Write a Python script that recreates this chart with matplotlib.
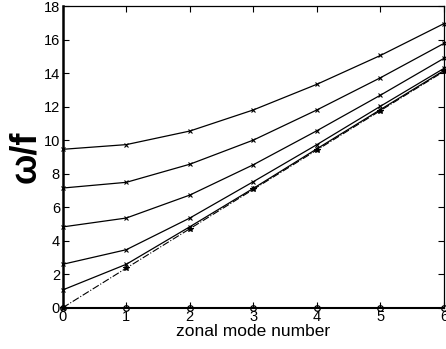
import matplotlib
matplotlib.use('Agg')
import matplotlib.pyplot as plt
import numpy as np

plt.rcParams['font.family'] = ['Liberation Sans', 'DejaVu Sans']

# zonal mode number
modes = [0, 1, 2, 3, 4, 5, 6]

# omega/f for each branch
branch_1 = [9.45, 9.73, 10.54, 11.80, 13.33, 15.05, 16.95]
branch_2 = [7.14, 7.48, 8.56, 10.00, 11.80, 13.72, 15.77]
branch_3 = [4.82, 5.35, 6.72, 8.53, 10.56, 12.68, 14.88]
branch_4 = [2.59, 3.46, 5.35, 7.52, 9.73, 12.02, 14.28]
branch_5 = [1.06, 2.59, 4.83, 7.12, 9.48, 11.82, 14.15]
dashed_branch = [0.0, 2.36, 4.71, 7.06, 9.41, 11.76, 14.10]
zero_branch = [0, 0, 0, 0, 0, 0, 0]

fig = plt.figure(figsize=(4.46, 3.49), dpi=100)
ax = fig.add_axes([0.1406, 0.1183, 0.8549, 0.8645])

# solid branches with x markers
for b in [branch_1, branch_2, branch_3, branch_4, branch_5]:
    ax.plot(modes, b, '-k', lw=0.9, marker='x', ms=3.5, mew=0.8, clip_on=False)

ax.plot(modes, dashed_branch, color='k', ls='-.', lw=0.8,
        marker='*', ms=4, mew=0.8, clip_on=False)
ax.plot(modes, zero_branch, '-k', lw=1.5, marker='o', ms=4,
        mfc='none', mew=0.9, clip_on=False)

ax.set_xlim(0, 6)
ax.set_ylim(0, 18)
ax.set_xticks(np.arange(0, 7, 1))
ax.set_yticks(np.arange(0, 19, 2))

ax.tick_params(direction='in', length=4, width=0.8, labelsize=10.5,
               top=True, right=True, pad=2)
for side in ['top', 'right']:
    ax.spines[side].set_linewidth(0.9)
ax.spines['left'].set_linewidth(1.8)
ax.spines['bottom'].set_linewidth(1.2)

ax.set_xlabel('zonal mode number', fontsize=12.5, labelpad=0)
ax.set_ylabel('ω/f', fontsize=26, fontweight='bold', labelpad=0)

fig.savefig('out.png', dpi=100)
